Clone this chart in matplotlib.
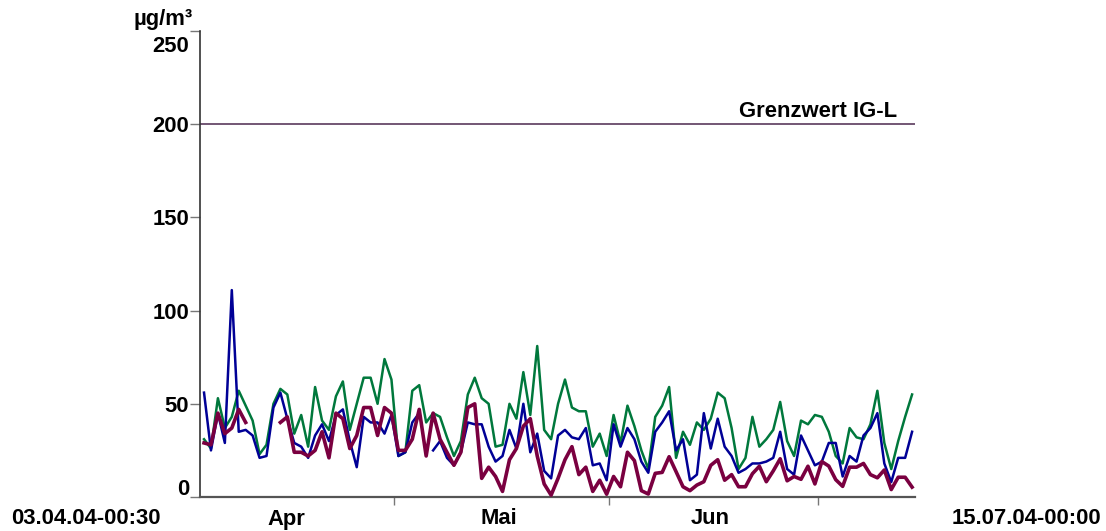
import numpy as np
import matplotlib
matplotlib.use("Agg")
import matplotlib.pyplot as plt
from matplotlib.transforms import blended_transform_factory, ScaledTranslation

nan = np.nan

# Daily mean concentrations (µg/m³), 03.04.2004 .. 14.07.2004
blue = [56, 25, 45, 29, 111, 35, 36, 33, 21, 22, 48, 56, 42, 29, 27, 21, 33, 39, 30, 44,
        47, 30, 16, 43, 40, 40, 34, 44, 22, 24, 40, 45, nan, 25, 30, 21, 17, 24, 40, 39,
        39, 27, 19, 22, 36, 26, 50, 24, 34, 14, 10, 33, 36, 32, 31, 37, 17, 18, 9, 39,
        27, 37, 31, 19, 13, 35, 40, 46, 25, 31, 9, 12, 45, 26, 42, 27, 22, 13, 15, 18,
        18, 19, 21, 35, 15, 12, 33, 25, 17, 19, 29, 29, 11, 22, 19, 33, 37, 45, 18, 8,
        21, 21, 35]
maroon = [29, 28, 45, 34, 37, 47, 40, nan, nan, nan, nan, 40, 43, 24, 24, 22, 25, 35, 21, 45,
          42, 26, 33, 48, 48, 33, 48, 45, 25, 25, 31, 47, 22, 45, 31, 24, 17, 24, 48, 50,
          10, 16, 11, 3, 20, 26, 38, 42, 22, 7, 1, 10, 20, 27, 12, 16, 3, 9, 1.5, 11,
          5.5, 24, 19.5, 3.4, 1.6, 12.7, 13.2, 21.6, 13.6, 5.5, 3.4, 6.4, 8.2, 17, 20, 9, 12, 5.5, 5.5, 12.5,
          16.5, 8.2, 14, 20.5, 8.7, 11, 9.5, 16.5, 7, 19, 16.6, 9.3, 5.7, 16, 16, 18, 12, 10.3, 14.5, 4,
          10.6, 10.6, 5.3]
green = [31, 26, 53, 37, 43, 57, 49, 41, 23, 28, 50, 58, 55, 34, 44, 27, 59, 41, 36, 54,
         62, 36, 50, 64, 64, 50, 74, 63, 22, 24, 57, 60, 40, 45, 43, 32, 22, 30, 55, 64,
         53, 50, 27, 28, 50, 42, 67, 44, 81, 36, 31, 50, 63, 48, 46, 46, 27, 34, 22, 44,
         29, 49, 38, 25, 15, 43, 49, 59, 21, 35, 28, 40, 36, 42, 56, 53, 37, 15, 21, 43,
         27, 31, 36, 51, 30, 22, 41, 39, 44, 43, 35, 22, 18, 37, 32, 31, 39, 57, 29, 15,
         30, 43, 55]

limit_value = 200
limit_label = "Grenzwert IG-L"
y_ticks = [0, 50, 100, 150, 200, 250]
month_edges = [27.98, 58.98, 88.98]          # days after 03.04.04 00:30
month_names = ["Apr", "Mai", "Jun"]
month_centers = [12.5, 43.0, 73.5]
start_label = "03.04.04-00:30"
end_label = "15.07.04-00:00"
unit_label = "µg/m³"

plt.rcParams['font.family'] = ['Liberation Sans', 'DejaVu Sans']
FS = 15.8

fig = plt.figure(figsize=(11.06, 5.31), dpi=100)
W, H = 1106, 531
ax = fig.add_axes([200 / W, 34 / H, 715 / W, 466 / H])

x = np.arange(len(blue)) + 0.58
ax.plot(x, green, color='#00783C', lw=1.8, zorder=3)
ax.plot(x, blue, color='#000096', lw=1.8, zorder=4)
ax.plot(x, maroon, color='#7A0040', lw=2.6, zorder=5)

ax.axhline(limit_value, color='#5A3A5C', lw=1.2, zorder=2)
ax.text(0.975, limit_value + 3.8, limit_label, transform=blended_transform_factory(ax.transAxes, ax.transData),
        ha='right', va='baseline', fontsize=FS, fontweight='bold')

ax.set_xlim(0, 103)
ax.set_ylim(0, 250)

for s in ['top', 'right']:
    ax.spines[s].set_visible(False)
ax.spines['left'].set_color('#333333')
ax.spines['left'].set_linewidth(1.2)
ax.spines['bottom'].set_color('#555555')
ax.spines['bottom'].set_linewidth(1.6)

ax.set_yticks(y_ticks)
ax.set_yticklabels([str(v) for v in y_ticks], fontsize=FS, fontweight='bold')
ax.tick_params(axis='y', direction='out', length=7, width=1, color='#777777', pad=1)
labs = ax.get_yticklabels()
labs[-1].set_transform(labs[-1].get_transform() + ScaledTranslation(0, -0.13, fig.dpi_scale_trans))
labs[0].set_transform(labs[0].get_transform() + ScaledTranslation(0, 0.10, fig.dpi_scale_trans))

ax.set_xticks(month_edges)
ax.set_xticklabels([])
ax.tick_params(axis='x', direction='out', length=6, width=1, color='#777777')

tr = blended_transform_factory(ax.transData, fig.transFigure)
yl = 1 - 519 / H
for c, n in zip(month_centers, month_names):
    ax.text(c, yl, n, transform=tr, ha='center', va='center', fontsize=FS, fontweight='bold')
fig.text(86 / W, yl, start_label, ha='center', va='center', fontsize=FS, fontweight='bold')
fig.text(1026 / W, yl, end_label, ha='center', va='center', fontsize=FS, fontweight='bold')
fig.text(193 / W, 1 - 25 / H, unit_label, ha='right', va='baseline', fontsize=FS, fontweight='bold')

fig.savefig('out.png', dpi=100)
